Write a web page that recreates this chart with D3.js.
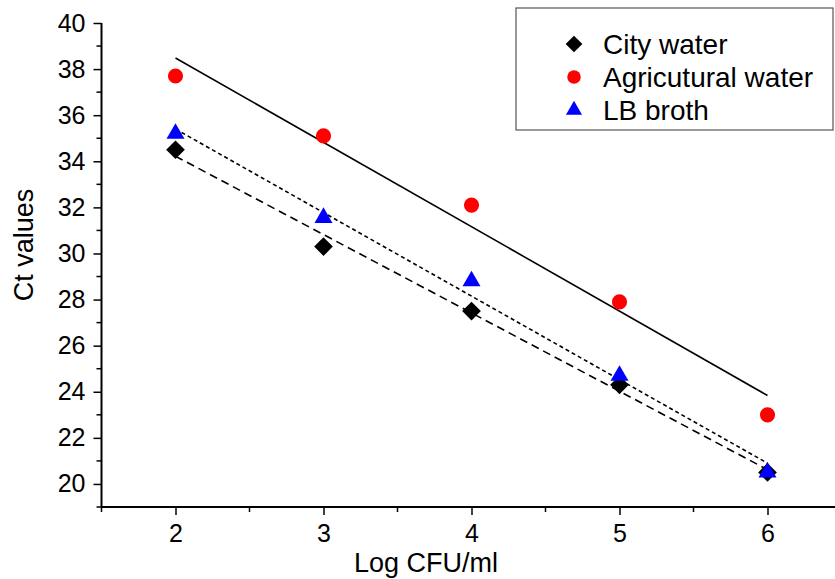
<!DOCTYPE html>
<html><head><meta charset="utf-8">
<script src="https://cdn.jsdelivr.net/npm/d3@7/dist/d3.min.js"></script>
<style>body{margin:0;background:#fff}svg{display:block}text{font-family:"Liberation Sans",Arial,sans-serif;fill:#000}</style>
</head><body>
<script>
const logCFU = [2, 3, 4, 5, 6];
const cityWater = [34.5, 30.3, 27.5, 24.3, 20.5];
const agriWater = [37.7, 35.1, 32.1, 27.9, 23.0];
const lbBroth = [35.2, 31.55, 28.8, 24.7, 20.5];
const seriesNames = ["City water", "Agricutural water", "LB broth"];
const yTicks = [20, 22, 24, 26, 28, 30, 32, 34, 36, 38, 40];
const xTicks = [2, 3, 4, 5, 6];

const W = 835, H = 579;
const svg = d3.select("body").append("svg").attr("width", W).attr("height", H);
const x = d3.scaleLinear().domain([1.5, 6.5]).range([101.5, 841.5]);
const y = d3.scaleLinear().domain([19, 40]).range([507, 23]);

// axes
const yAxis = d3.axisLeft(y).tickValues(yTicks).tickSize(8).tickPadding(8).tickFormat(d3.format("d"));
const gy = svg.append("g").attr("transform", `translate(${x(1.5)},0)`).call(yAxis);
gy.select(".domain").attr("d", `M0,${y(19)}V${y(40)}`);
const yMinor = d3.range(19, 40, 2);
gy.selectAll(".minor").data(yMinor).enter().append("line").attr("class","minor")
  .attr("x1", 0).attr("x2", -5).attr("y1", d => y(d)).attr("y2", d => y(d)).attr("stroke", "#000").attr("stroke-width", 1.5);

const xAxis = d3.axisBottom(x).tickValues(xTicks).tickSize(8).tickPadding(9).tickFormat(d3.format("d"));
const gx = svg.append("g").attr("transform", `translate(0,${y(19)})`).call(xAxis);
gx.select(".domain").attr("d", `M${x(1.5)},0H${x(6.5)}`);
const xMinor = [1.5, 2.5, 3.5, 4.5, 5.5];
gx.selectAll(".minor").data(xMinor).enter().append("line").attr("class","minor")
  .attr("y1", 0).attr("y2", 5).attr("x1", d => x(d)).attr("x2", d => x(d)).attr("stroke", "#000").attr("stroke-width", 1.5);

svg.selectAll(".domain").attr("stroke", "#000").attr("stroke-width", 2);
svg.selectAll(".tick line").attr("stroke", "#000").attr("stroke-width", 1.5);
svg.selectAll(".tick text").style("font-size", "25px").style("font-family", "'Liberation Sans',Arial,sans-serif");

// titles
svg.append("text").attr("x", 426).attr("y", 572).attr("text-anchor", "middle").style("font-size", "27px").text("Log CFU/ml");
svg.append("text").attr("transform", `translate(33,245) rotate(-90)`).attr("text-anchor", "middle").style("font-size", "27px").text("Ct values");

// regression
function fit(ys) {
  const mx = d3.mean(logCFU), my = d3.mean(ys);
  const b = d3.sum(logCFU, (d, i) => (d - mx) * (ys[i] - my)) / d3.sum(logCFU, d => (d - mx) ** 2);
  const a = my - b * mx;
  return [[2, a + 2 * b], [6, a + 6 * b]];
}
const line = d3.line().x(d => x(d[0])).y(d => y(d[1]));
const series = [
  {vals: cityWater, dash: "8,5", sym: d3.symbolSquare, size: 175, rot: 45, color: "#000"},
  {vals: agriWater, dash: null, sym: d3.symbolCircle, size: 180, rot: 0, color: "#ff0000"},
  {vals: lbBroth, dash: "4,3", sym: d3.symbolTriangle, size: 140, rot: 0, color: "#0000ff"}
];
series.forEach(s => {
  svg.append("path").attr("d", line(fit(s.vals))).attr("fill", "none").attr("stroke", "#000")
    .attr("stroke-width", 1.6).attr("stroke-dasharray", s.dash);
});
[1, 0, 2].forEach(k => {
  const s = series[k];
  svg.append("g").selectAll("path").data(s.vals).enter().append("path")
    .attr("d", d3.symbol().type(s.sym).size(s.size))
    .attr("transform", (d, i) => `translate(${x(logCFU[i])},${y(d)}) rotate(${s.rot})`)
    .attr("fill", s.color);
});

// legend
const lg = svg.append("g");
lg.append("rect").attr("x", 516).attr("y", 8).attr("width", 317).attr("height", 122)
  .attr("fill", "#fff").attr("stroke", "#555").attr("stroke-width", 1.2);
seriesNames.forEach((n, i) => {
  const base = 54 + i * 33;
  const s = series[i];
  lg.append("path").attr("d", d3.symbol().type(s.sym).size(s.size * 0.8))
    .attr("transform", `translate(574,${base - 10}) rotate(${s.rot})`).attr("fill", s.color);
  lg.append("text").attr("x", 603).attr("y", base).style("font-size", "28px").text(n);
});
</script>
</body></html>
